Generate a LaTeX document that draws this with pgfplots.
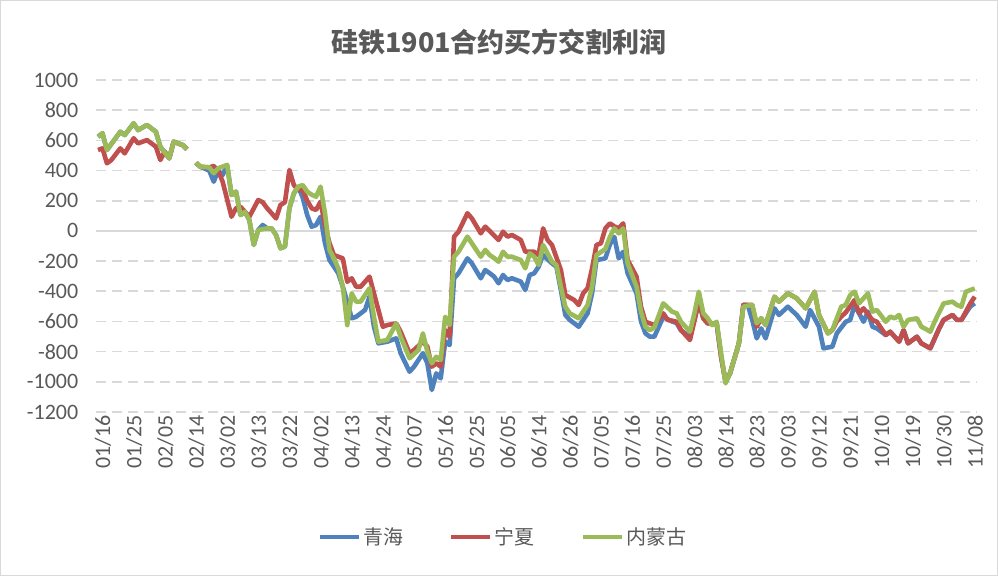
\documentclass[border=0pt]{standalone}
\usepackage{pgfplots}
\pgfplotsset{compat=1.18}
\usepackage{fontspec}
\setmainfont{Carlito}
\newfontfamily\cjk{Noto Sans CJK SC}
\definecolor{qh}{HTML}{4F81BD}
\definecolor{nx}{HTML}{C0504D}
\definecolor{nm}{HTML}{9BBB59}
\definecolor{txt}{HTML}{595959}
\definecolor{grd}{HTML}{D9D9D9}
\begin{document}
\begin{tikzpicture}
\draw[grd, line width=1pt] (0.5pt,0.5pt) rectangle (997.5pt,575.5pt);
\node[text=txt, font=\cjk\bfseries\fontsize{27}{31}\selectfont] at (499pt,534pt) {硅铁1901合约买方交割利润};
\begin{axis}[
  at={(95.8pt,164pt)}, anchor=south west,
  scale only axis, width=881.2pt, height=332pt,
  xmin=-0.5, xmax=197.5, ymin=-1200, ymax=1000,
  unbounded coords=jump,
  axis line style={draw=none}, tick style={draw=none},
  ytick={-1200,-1000,-800,-600,-400,-200,0,200,400,600,800,1000},
  yticklabels={-1200,-1000,-800,-600,-400,-200,0,200,400,600,800,1000},
  xtick={0,7,...,196},
  xticklabels={01/16,01/25,02/05,02/14,03/02,03/13,03/22,04/02,04/13,04/24,05/07,05/16,05/25,06/05,06/14,06/26,07/05,07/16,07/25,08/03,08/14,08/23,09/03,09/12,09/21,10/10,10/19,10/30,11/08},
  ticklabel style={font=\fontsize{22}{26}\selectfont, text=txt},
  yticklabel style={xshift=-14pt},
  xticklabel style={rotate=90, anchor=east, yshift=-5pt},
  ymajorgrids,
  major grid style={grd, line width=1.6pt, dash pattern=on 10pt off 6pt},
  extra y ticks={0}, extra y tick labels={},
  extra y tick style={grid=major, major grid style={solid, grd, line width=1.4pt}},
  legend columns=3,
  legend style={at={(0.462,-0.3765)}, anchor=center, draw=none, fill=none,
    font=\cjk\fontsize{20}{24}\selectfont, text=txt,
    /tikz/every even column/.append style={column sep=44pt}},
  legend image code/.code={\draw[#1] (0pt,0pt) -- (39pt,0pt);},
]
\addplot[qh, line width=4.6pt, line join=round] coordinates {(0,624)(1,647)(2,536)(5,657)(6,635)(8,713)(9,668)(11,702)(13,657)(14,558)(16,481)(17,591)(19,569)(20,541)(21,nan)(22,452)(23,425)(25,400)(26,326)(27,400)(28,370)(29,437)(30,238)(31,260)(32,105)(33,127)(34,72)(35,-93)(36,6)(37,39)(38,17)(39,17)(40,-27)(41,-115)(42,-104)(43,150)(44,249)(45,293)(46,220)(47,105)(48,28)(49,39)(50,94)(51,-82)(52,-193)(54,-281)(55,-370)(56,-470)(57,-579)(58,-569)(60,-524)(61,-436)(62,-635)(63,-745)(65,-734)(67,-712)(68,-811)(70,-933)(71,-900)(73,-811)(74,-877)(75,-1054)(76,-944)(77,-977)(78,-734)(79,-756)(80,-314)(81,-281)(83,-182)(84,-215)(86,-314)(87,-259)(88,-280)(89,-303)(90,-347)(91,-292)(92,-325)(93,-314)(95,-336)(96,-392)(97,-292)(98,-281)(99,-237)(100,-160)(102,-215)(103,-237)(104,-392)(105,-557)(106,-590)(108,-635)(110,-546)(111,-414)(112,-193)(114,-182)(115,-90)(116,-40)(117,-182)(118,-138)(119,-281)(121,-414)(122,-600)(123,-679)(124,-701)(125,-701)(127,-570)(129,-600)(130,-610)(131,-660)(133,-700)(135,-469)(136,-579)(137,-613)(139,-613)(140,-834)(141,-999)(142,-944)(144,-745)(145,-491)(146,-491)(147,-590)(148,-712)(149,-646)(150,-712)(152,-513)(153,-557)(155,-502)(156,-530)(157,-557)(159,-635)(160,-524)(162,-635)(163,-778)(165,-767)(166,-679)(168,-602)(169,-590)(170,-491)(171,-546)(172,-602)(173,-535)(174,-635)(175,-646)(177,-690)(178,-668)(180,-734)(181,-657)(182,-745)(184,-701)(185,-745)(187,-778)(189,-646)(190,-590)(192,-557)(193,-590)(194,-590)(196,-500)(197,-480)};
\addlegendentry{青海}
\addplot[nx, line width=4.6pt, line join=round] coordinates {(0,536)(1,547)(2,448)(3,470)(5,547)(6,514)(8,614)(9,580)(11,602)(13,558)(14,470)(15,525)(16,481)(17,591)(19,569)(20,541)(21,nan)(22,452)(23,425)(25,421)(26,430)(27,400)(28,326)(30,94)(31,150)(32,160)(34,94)(36,205)(37,190)(38,150)(39,117)(40,83)(41,172)(42,190)(43,404)(44,304)(45,271)(46,271)(47,200)(48,150)(49,139)(50,194)(51,40)(52,-80)(53,-160)(54,-171)(55,-182)(56,-337)(57,-314)(58,-370)(59,-370)(61,-303)(62,-414)(64,-635)(65,-624)(67,-613)(68,-668)(70,-811)(71,-789)(73,-734)(74,-767)(75,-900)(76,-877)(77,-900)(78,-657)(79,-701)(80,-38)(81,-5)(83,117)(84,83)(86,-16)(87,28)(88,0)(89,-30)(90,-60)(91,-5)(92,-38)(93,-27)(95,-60)(96,-138)(97,-138)(98,-138)(99,-160)(100,17)(101,-60)(102,-93)(104,-259)(105,-425)(107,-458)(108,-491)(109,-414)(110,-380)(111,-250)(112,-93)(113,-82)(114,17)(115,50)(116,30)(117,17)(118,50)(119,-193)(121,-303)(122,-502)(123,-602)(124,-613)(125,-624)(127,-546)(128,-590)(129,-595)(130,-602)(131,-657)(133,-723)(135,-469)(136,-579)(137,-613)(139,-613)(140,-834)(141,-999)(142,-944)(144,-745)(145,-491)(146,-491)(147,-491)(148,-635)(149,-579)(150,-624)(152,-436)(153,-469)(155,-414)(156,-430)(157,-447)(159,-513)(161,-403)(162,-557)(164,-679)(165,-657)(166,-600)(167,-568)(168,-540)(169,-500)(170,-458)(171,-546)(172,-513)(174,-590)(175,-602)(177,-690)(178,-668)(180,-734)(181,-657)(182,-745)(184,-701)(185,-745)(187,-778)(189,-646)(190,-590)(192,-557)(193,-590)(194,-590)(196,-480)(197,-436)};
\addlegendentry{宁夏}
\addplot[nm, line width=4.6pt, line join=round] coordinates {(0,624)(1,647)(2,536)(5,657)(6,635)(8,713)(9,668)(11,702)(13,657)(14,558)(16,481)(17,591)(19,569)(20,541)(21,nan)(22,452)(23,425)(25,421)(26,382)(27,415)(29,437)(30,238)(31,260)(32,105)(33,127)(34,72)(35,-93)(36,6)(38,17)(39,17)(40,-27)(41,-115)(42,-104)(43,150)(44,249)(45,293)(46,304)(47,260)(48,240)(49,227)(50,293)(51,117)(52,-126)(53,-182)(54,-248)(55,-370)(56,-624)(57,-414)(58,-469)(59,-469)(61,-380)(62,-569)(63,-734)(65,-723)(67,-613)(68,-701)(70,-844)(72,-789)(73,-679)(74,-800)(75,-877)(76,-834)(77,-855)(78,-569)(79,-624)(80,-171)(81,-138)(83,-38)(84,-82)(86,-171)(87,-126)(88,-160)(89,-180)(90,-204)(91,-138)(92,-171)(93,-171)(95,-193)(96,-248)(97,-149)(98,-171)(99,-226)(100,-93)(102,-204)(103,-226)(104,-370)(105,-502)(106,-546)(108,-579)(110,-491)(111,-370)(112,-160)(114,-120)(115,-40)(116,17)(117,-16)(118,17)(119,-215)(121,-370)(122,-535)(123,-635)(124,-657)(125,-640)(127,-480)(129,-535)(130,-546)(131,-602)(133,-668)(134,-546)(135,-403)(136,-546)(137,-579)(138,-624)(139,-602)(140,-811)(141,-1010)(142,-944)(144,-745)(145,-502)(146,-495)(147,-491)(148,-613)(149,-579)(150,-624)(152,-436)(153,-469)(155,-414)(156,-430)(157,-447)(159,-513)(161,-403)(162,-557)(164,-679)(165,-657)(167,-502)(168,-491)(169,-425)(170,-403)(171,-480)(173,-414)(174,-535)(175,-524)(177,-602)(178,-568)(179,-579)(180,-557)(181,-635)(182,-590)(184,-579)(185,-635)(186,-650)(187,-668)(188,-600)(189,-540)(190,-480)(191,-475)(192,-469)(193,-491)(194,-502)(195,-403)(197,-381)};
\addlegendentry{内蒙古}
\end{axis}
\end{tikzpicture}
\end{document}
